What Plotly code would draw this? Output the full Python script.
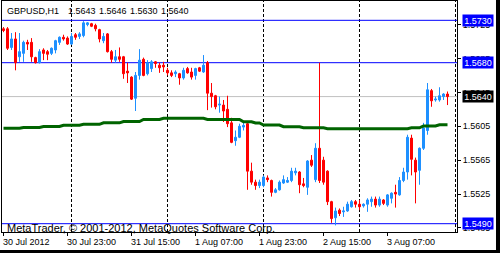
import plotly.graph_objects as go
import pandas as pd

# ---------------- data ----------------
symbol = "GBPUSD,H1"
start_time = "2012-07-30 07:00"

opens = [1.5720, 1.5720, 1.5698, 1.5708, 1.5687, 1.5691, 1.5704, 1.5704, 1.5686, 1.5680,
         1.5695, 1.5693, 1.5691, 1.5695, 1.5704, 1.5710, 1.5709, 1.5702, 1.5713, 1.5711,
         1.5712, 1.5725, 1.5726, 1.5724, 1.5719, 1.5706, 1.5714, 1.5693, 1.5683, 1.5687,
         1.5687, 1.5670, 1.5663, 1.5638, 1.5665, 1.5684, 1.5667, 1.5673, 1.5681, 1.5677,
         1.5677, 1.5671, 1.5668, 1.5667, 1.5667, 1.5662, 1.5673, 1.5669, 1.5665, 1.5674,
         1.5669, 1.5680, 1.5644, 1.5641, 1.5630, 1.5630, 1.5625, 1.5609, 1.5588, 1.5592,
         1.5604, 1.5608, 1.5552, 1.5539, 1.5535, 1.5535, 1.5544, 1.5541, 1.5527, 1.5530,
         1.5538, 1.5539, 1.5541, 1.5550, 1.5551, 1.5537, 1.5533, 1.5565, 1.5542, 1.5579,
         1.5565, 1.5552, 1.5516, 1.5497, 1.5506, 1.5504, 1.5505, 1.5510, 1.5516, 1.5513,
         1.5511, 1.5513, 1.5516, 1.5519, 1.5512, 1.5518, 1.5512, 1.5520, 1.5527, 1.5524,
         1.5541, 1.5551, 1.5591, 1.5565, 1.5553, 1.5579, 1.5600, 1.5647, 1.5636, 1.5636,
         1.5640, 1.5643]
highs = [1.5722, 1.5722, 1.5715, 1.5716, 1.5715, 1.5706, 1.5707, 1.5709, 1.5687, 1.5696,
         1.5697, 1.5695, 1.5698, 1.5707, 1.5711, 1.5713, 1.5711, 1.5715, 1.5715, 1.5716,
         1.5729, 1.5728, 1.5727, 1.5726, 1.5720, 1.5715, 1.5715, 1.5695, 1.5695, 1.5698,
         1.5688, 1.5680, 1.5664, 1.5669, 1.5696, 1.5686, 1.5683, 1.5683, 1.5682, 1.5680,
         1.5681, 1.5674, 1.5671, 1.5671, 1.5668, 1.5674, 1.5675, 1.5674, 1.5674, 1.5675,
         1.5689, 1.5682, 1.5656, 1.5642, 1.5640, 1.5636, 1.5641, 1.5615, 1.5600, 1.5608,
         1.5610, 1.5609, 1.5562, 1.5542, 1.5542, 1.5547, 1.5547, 1.5542, 1.5532, 1.5541,
         1.5547, 1.5545, 1.5556, 1.5556, 1.5552, 1.5544, 1.5565, 1.5571, 1.5585, 1.5680,
         1.5569, 1.5553, 1.5517, 1.5509, 1.5508, 1.5510, 1.5516, 1.5518, 1.5518, 1.5518,
         1.5514, 1.5520, 1.5522, 1.5522, 1.5522, 1.5519, 1.5525, 1.5527, 1.5536, 1.5545,
         1.5556, 1.5595, 1.5595, 1.5568, 1.5580, 1.5609, 1.5656, 1.5649, 1.5640, 1.5651,
         1.5644, 1.5646]
lows = [1.5716, 1.5695, 1.5695, 1.5671, 1.5681, 1.5681, 1.5695, 1.5681, 1.5679, 1.5679,
        1.5683, 1.5683, 1.5689, 1.5691, 1.5701, 1.5706, 1.5701, 1.5701, 1.5707, 1.5708,
        1.5710, 1.5723, 1.5722, 1.5717, 1.5704, 1.5703, 1.5692, 1.5680, 1.5680, 1.5681,
        1.5661, 1.5656, 1.5636, 1.5623, 1.5660, 1.5664, 1.5665, 1.5669, 1.5674, 1.5668,
        1.5669, 1.5665, 1.5663, 1.5663, 1.5654, 1.5660, 1.5667, 1.5660, 1.5660, 1.5669,
        1.5668, 1.5624, 1.5627, 1.5625, 1.5621, 1.5610, 1.5604, 1.5585, 1.5582, 1.5591,
        1.5600, 1.5530, 1.5536, 1.5530, 1.5532, 1.5533, 1.5539, 1.5522, 1.5526, 1.5529,
        1.5537, 1.5538, 1.5539, 1.5547, 1.5526, 1.5533, 1.5524, 1.5557, 1.5539, 1.5538,
        1.5536, 1.5512, 1.5491, 1.5488, 1.5499, 1.5498, 1.5504, 1.5509, 1.5509, 1.5506,
        1.5509, 1.5504, 1.5510, 1.5509, 1.5510, 1.5512, 1.5510, 1.5514, 1.5509, 1.5523,
        1.5539, 1.5542, 1.5547, 1.5514, 1.5536, 1.5577, 1.5595, 1.5628, 1.5634, 1.5634,
        1.5636, 1.5630]
closes = [1.5718, 1.5697, 1.5708, 1.5680, 1.5693, 1.5704, 1.5702, 1.5687, 1.5680, 1.5693,
          1.5691, 1.5690, 1.5697, 1.5706, 1.5710, 1.5708, 1.5702, 1.5711, 1.5710, 1.5714,
          1.5727, 1.5727, 1.5723, 1.5720, 1.5708, 1.5711, 1.5693, 1.5684, 1.5687, 1.5684,
          1.5667, 1.5668, 1.5637, 1.5665, 1.5683, 1.5665, 1.5680, 1.5681, 1.5679, 1.5674,
          1.5675, 1.5668, 1.5665, 1.5669, 1.5662, 1.5671, 1.5668, 1.5663, 1.5673, 1.5670,
          1.5677, 1.5644, 1.5640, 1.5628, 1.5631, 1.5623, 1.5608, 1.5586, 1.5592, 1.5605,
          1.5606, 1.5552, 1.5539, 1.5535, 1.5539, 1.5545, 1.5542, 1.5527, 1.5530, 1.5539,
          1.5542, 1.5541, 1.5552, 1.5552, 1.5536, 1.5535, 1.5564, 1.5559, 1.5579, 1.5541,
          1.5539, 1.5516, 1.5496, 1.5505, 1.5502, 1.5505, 1.5513, 1.5516, 1.5513, 1.5510,
          1.5513, 1.5518, 1.5519, 1.5512, 1.5519, 1.5514, 1.5524, 1.5526, 1.5525, 1.5541,
          1.5551, 1.5592, 1.5566, 1.5551, 1.5579, 1.5603, 1.5648, 1.5635, 1.5637, 1.5641,
          1.5643, 1.5640]
ma_values = ([1.56026] * 5 + [1.56035] * 5 + [1.56047] * 5 + [1.56061] * 5 +
             [1.56073] * 5 + [1.56090] * 5 + [1.56106] * 5 + [1.56130] * 5 +
             [1.56144] * 9 + [1.56150] + [1.56144] + [1.56130] * 9 +
             [1.56103] * 3 + [1.56088] * 2 + [1.56064] * 5 + [1.56044] * 5 +
             [1.56032] * 6 + [1.56021] * 21 + [1.56032] * 3 + [1.56053] * 4 +
             [1.56068] * 3)

hline_levels = [1.5730, 1.5680, 1.5490]
price_ticks = [1.5485, 1.5525, 1.5565, 1.5605, 1.5645, 1.5685, 1.5725]
time_tick_labels = ["30 Jul 2012", "30 Jul 23:00", "31 Jul 15:00", "1 Aug 07:00",
                    "1 Aug 23:00", "2 Aug 15:00", "3 Aug 07:00"]
time_tick_times = ["2012-07-30 07:00", "2012-07-30 23:00", "2012-07-31 15:00",
                   "2012-08-01 07:00", "2012-08-01 23:00", "2012-08-02 15:00",
                   "2012-08-03 07:00"]
day_separators = ["2012-07-31 00:00", "2012-08-01 00:00", "2012-08-02 00:00",
                  "2012-08-03 00:00", "2012-08-04 00:00"]
copyright_text = "MetaTrader, © 2001-2012, MetaQuotes Software Corp."

# ---------------- figure ----------------
BLUE = "#1E90FF"
RED = "#FF0000"
FONT = "Liberation Sans, Arial, sans-serif"

times = pd.date_range(start_time, periods=len(opens), freq="h")
t0 = times[0]
x_range = [t0 - pd.Timedelta(minutes=22.5), t0 + pd.Timedelta(hours=113, minutes=22.5)]
y_range = [1.54802, 1.57528]

fig = go.Figure()

fig.add_trace(go.Scatter(x=times, y=ma_values, mode="lines",
                         line=dict(color="#006400", width=3), hoverinfo="skip",
                         showlegend=False))

fig.add_trace(go.Candlestick(
    x=times, open=opens, high=highs, low=lows, close=closes,
    increasing=dict(line=dict(color=BLUE, width=1), fillcolor=BLUE),
    decreasing=dict(line=dict(color=RED, width=1), fillcolor=RED),
    whiskerwidth=0, showlegend=False))

shapes = []
for d in day_separators:
    shapes.append(dict(type="line", xref="x", yref="paper", x0=d, x1=d, y0=0, y1=1,
                       line=dict(color="black", width=1, dash="3px,2px"), layer="below"))
for lvl in hline_levels:
    shapes.append(dict(type="line", xref="paper", yref="y", x0=0, x1=1, y0=lvl, y1=lvl,
                       line=dict(color="#0000FF", width=1), layer="below"))
bid = closes[-1]
shapes.append(dict(type="line", xref="paper", yref="y", x0=0, x1=1, y0=bid, y1=bid,
                   line=dict(color="#C0C0C0", width=1), layer="below"))
# window edge strips
shapes.append(dict(type="rect", xref="paper", yref="paper", x0=1.0857, x1=1.2, y0=-0.3, y1=1.2,
                   fillcolor="black", line=dict(width=0)))
shapes.append(dict(type="rect", xref="paper", yref="paper", x0=-0.1, x1=1.2, y0=-0.0779, y1=-0.3,
                   fillcolor="black", line=dict(width=0)))

annotations = []
# header
hdr_vals = [opens[-1], highs[-1], lows[-1], closes[-1]]
annotations.append(dict(text=symbol, xref="paper", yref="paper", x=0.0066, y=0.958,
                        xanchor="left", yanchor="middle", showarrow=False,
                        font=dict(family=FONT, size=9, color="black")))
for xp, v in zip([0.140, 0.2095, 0.277, 0.3444], hdr_vals):
    annotations.append(dict(text=f"{v:.4f}", xref="paper", yref="paper", x=xp, y=0.958,
                            xanchor="left", yanchor="middle", showarrow=False,
                            font=dict(family=FONT, size=9, color="black")))
# copyright
annotations.append(dict(text=copyright_text, xref="paper", yref="paper", x=0.0066, y=0.0173,
                        xanchor="left", yanchor="middle", showarrow=False,
                        font=dict(family=FONT, size=11, color="black")))
# time labels
for t, lab in zip(time_tick_times, time_tick_labels):
    annotations.append(dict(text=lab, xref="x", yref="paper", x=t, y=-0.042,
                            xanchor="left", yanchor="middle", showarrow=False, xshift=-3,
                            font=dict(family=FONT, size=9, color="black")))
# price boxes
for lvl in hline_levels:
    annotations.append(dict(text=f"{lvl:.4f}", xref="paper", yref="y", x=1.011, y=lvl,
                            xanchor="left", yanchor="middle", showarrow=False,
                            bgcolor="#0000FF", width=30, height=11, borderpad=0,
                            font=dict(family=FONT, size=9, color="white")))
annotations.append(dict(text=f"{bid:.4f}", xref="paper", yref="y", x=1.011, y=bid,
                        xanchor="left", yanchor="middle", showarrow=False,
                        bgcolor="black", width=30, height=11, borderpad=0,
                        font=dict(family=FONT, size=9, color="white")))

fig.update_layout(
    width=500, height=253,
    margin=dict(l=2, r=43, t=1, b=21),
    paper_bgcolor="white", plot_bgcolor="white",
    showlegend=False,
    boxgap=0.5, boxgroupgap=0,
    shapes=shapes, annotations=annotations,
    xaxis=dict(type="date", range=x_range, showgrid=False, zeroline=False,
               showline=True, linecolor="black", linewidth=1, mirror=True,
               ticks="outside", ticklen=3, tickcolor="black",
               tickvals=time_tick_times, showticklabels=False,
               rangeslider=dict(visible=False), fixedrange=True),
    yaxis=dict(side="right", range=y_range, showgrid=False, zeroline=False,
               showline=True, linecolor="black", linewidth=1, mirror=True,
               ticks="outside", ticklen=3, tickcolor="black",
               tickvals=price_ticks, ticktext=[f"{p:.4f}" for p in price_ticks],
               tickfont=dict(family=FONT, size=9, color="black"), fixedrange=True),
)

fig.write_html("out.html")
